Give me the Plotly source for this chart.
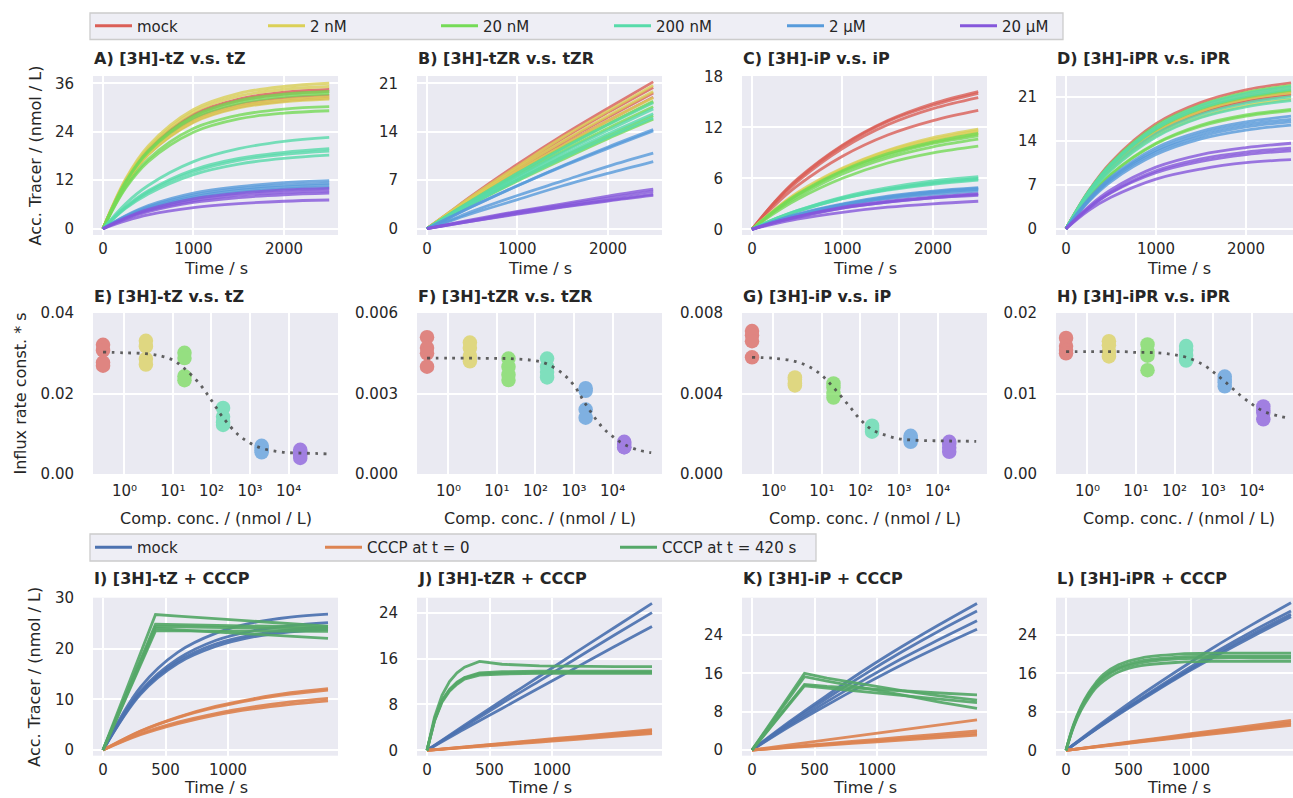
import math
import plotly.graph_objects as go

W, H = 1293, 798
FONT = "DejaVu Sans"
TXT = "#262626"
BG = "#EAEAF2"

# ------------------------------------------------------------------
# Row 1 : accumulated tracer in competition experiments (nmol / L)
# ------------------------------------------------------------------
T_TOP = [0, 250, 500, 1000, 1500, 2000, 2500]
COMP_GROUPS = ["mock", "2 nM", "20 nM", "200 nM", "2 µM", "20 µM"]
COMP_COLORS = ["#db5f57", "#dbd057", "#75db57", "#57dbaa", "#579bdb", "#8557db"]

A_curves = [
    [[0, 11.8, 19.6, 28.3, 32.1, 33.8, 34.5], [0, 11.6, 19.3, 27.9, 31.7, 33.3, 34.0],
     [0, 11.3, 18.8, 27.1, 30.7, 32.3, 33.0], [0, 11.0, 18.4, 26.5, 30.1, 31.6, 32.3]],
    [[0, 12.3, 20.5, 29.5, 33.5, 35.2, 36.0], [0, 12.0, 20.0, 28.9, 32.8, 34.5, 35.2],
     [0, 11.1, 18.5, 26.7, 30.4, 31.9, 32.6], [0, 11.0, 18.3, 26.3, 29.9, 31.4, 32.1]],
    [[0, 11.6, 19.3, 27.9, 31.7, 33.3, 34.0], [0, 11.4, 19.0, 27.4, 31.1, 32.7, 33.4],
     [0, 10.3, 17.2, 24.8, 28.1, 29.6, 30.2], [0, 10.0, 16.6, 23.9, 27.2, 28.6, 29.2]],
    [[0, 6.2, 10.7, 16.6, 19.8, 21.6, 22.6], [0, 5.4, 9.4, 14.6, 17.4, 18.9, 19.8],
     [0, 5.2, 9.1, 14.1, 16.9, 18.4, 19.2], [0, 5.0, 8.6, 13.4, 16.0, 17.4, 18.2]],
    [[0, 3.2, 5.7, 8.8, 10.4, 11.4, 11.9], [0, 3.1, 5.4, 8.3, 9.9, 10.8, 11.3],
     [0, 2.9, 5.1, 7.9, 9.5, 10.3, 10.8], [0, 2.8, 4.8, 7.5, 9.0, 9.8, 10.2]],
    [[0, 2.7, 4.8, 7.4, 8.8, 9.6, 10.0], [0, 2.6, 4.5, 6.9, 8.3, 9.0, 9.4],
     [0, 2.4, 4.2, 6.5, 7.7, 8.4, 8.8], [0, 1.9, 3.4, 5.2, 6.2, 6.8, 7.1]],
]

B_curves = [
    [[0, 2.4, 4.8, 9.3, 13.5, 17.4, 21.2], [0, 2.3, 4.6, 8.9, 13.0, 16.8, 20.4],
     [0, 2.2, 4.4, 8.6, 12.5, 16.1, 19.6], [0, 2.2, 4.3, 8.3, 12.1, 15.6, 19.0]],
    [[0, 2.4, 4.7, 9.0, 13.2, 17.0, 20.7], [0, 2.3, 4.5, 8.7, 12.6, 16.3, 19.8],
     [0, 2.2, 4.3, 8.3, 12.0, 15.6, 18.9], [0, 2.1, 4.1, 8.0, 11.6, 15.1, 18.3]],
    [[0, 2.1, 4.1, 8.0, 11.7, 15.1, 18.4], [0, 2.0, 4.0, 7.7, 11.2, 14.5, 17.6],
     [0, 1.9, 3.7, 7.1, 10.4, 13.4, 16.3], [0, 1.8, 3.6, 6.9, 10.0, 13.0, 15.8]],
    [[0, 2.1, 4.1, 8.0, 11.6, 15.0, 18.2], [0, 2.0, 3.9, 7.6, 11.0, 14.2, 17.3],
     [0, 1.9, 3.7, 7.3, 10.6, 13.7, 16.6], [0, 1.8, 3.6, 7.0, 10.2, 13.2, 16.0]],
    [[0, 1.6, 3.2, 6.2, 9.1, 11.8, 14.3], [0, 1.6, 3.2, 6.2, 9.0, 11.6, 14.1],
     [0, 1.2, 2.5, 4.8, 6.9, 9.0, 10.9], [0, 1.1, 2.2, 4.2, 6.2, 8.0, 9.7]],
    [[0, 0.65, 1.3, 2.5, 3.6, 4.7, 5.7], [0, 0.62, 1.2, 2.4, 3.4, 4.4, 5.4],
     [0, 0.57, 1.1, 2.2, 3.2, 4.1, 5.0], [0, 0.55, 1.1, 2.1, 3.1, 4.0, 4.8]],
]

C_curves = [
    [[0, 3.2, 5.9, 9.9, 12.8, 14.8, 16.2], [0, 3.2, 5.8, 9.8, 12.7, 14.6, 16.0],
     [0, 3.1, 5.6, 9.5, 12.3, 14.2, 15.5], [0, 2.8, 5.1, 8.6, 11.1, 12.8, 14.0]],
    [[0, 2.3, 4.3, 7.2, 9.3, 10.8, 11.8], [0, 2.3, 4.2, 7.1, 9.2, 10.6, 11.6],
     [0, 2.2, 4.1, 7.0, 9.0, 10.4, 11.4], [0, 2.2, 4.1, 6.9, 8.9, 10.2, 11.2]],
    [[0, 2.2, 4.1, 6.9, 8.9, 10.3, 11.3], [0, 2.2, 4.0, 6.8, 8.7, 10.1, 11.0],
     [0, 2.1, 3.8, 6.5, 8.4, 9.7, 10.6], [0, 1.9, 3.5, 6.0, 7.8, 9.0, 9.8]],
    [[0, 1.2, 2.2, 3.8, 4.9, 5.7, 6.2], [0, 1.2, 2.2, 3.7, 4.7, 5.5, 6.0],
     [0, 1.2, 2.1, 3.6, 4.7, 5.4, 5.9], [0, 1.1, 2.1, 3.6, 4.6, 5.3, 5.8]],
    [[0, 0.97, 1.8, 3.0, 3.9, 4.5, 4.9], [0, 0.95, 1.7, 2.9, 3.8, 4.4, 4.8],
     [0, 0.93, 1.7, 2.9, 3.7, 4.3, 4.7], [0, 0.89, 1.6, 2.8, 3.6, 4.1, 4.5]],
    [[0, 0.83, 1.5, 2.6, 3.3, 3.8, 4.2], [0, 0.81, 1.5, 2.5, 3.2, 3.7, 4.1],
     [0, 0.79, 1.4, 2.5, 3.2, 3.7, 4.0], [0, 0.65, 1.2, 2.0, 2.6, 3.0, 3.3]],
]

D_curves = [
    [[0, 6.0, 10.6, 16.7, 20.1, 22.1, 23.2], [0, 5.7, 10.0, 15.7, 18.9, 20.8, 21.8],
     [0, 5.6, 9.8, 15.4, 18.6, 20.5, 21.5], [0, 5.5, 9.7, 15.2, 18.4, 20.2, 21.2]],
    [[0, 5.8, 10.2, 16.1, 19.4, 21.3, 22.4], [0, 5.7, 10.1, 15.8, 19.1, 20.9, 22.0],
     [0, 5.6, 9.9, 15.5, 18.7, 20.6, 21.6], [0, 5.4, 9.4, 14.8, 17.8, 19.6, 20.6]],
    [[0, 5.9, 10.4, 16.4, 19.7, 21.7, 22.8], [0, 5.7, 10.1, 15.8, 19.1, 20.9, 22.0],
     [0, 4.9, 8.7, 13.6, 16.5, 18.1, 19.0], [0, 4.9, 8.6, 13.5, 16.3, 17.9, 18.8]],
    [[0, 5.9, 10.3, 16.2, 19.6, 21.5, 22.6], [0, 5.8, 10.1, 15.9, 19.2, 21.1, 22.2],
     [0, 5.5, 9.6, 15.1, 18.2, 20.0, 21.0], [0, 5.3, 9.3, 14.6, 17.7, 19.4, 20.4]],
    [[0, 4.7, 8.2, 12.9, 15.5, 17.0, 17.9], [0, 4.5, 8.0, 12.5, 15.1, 16.6, 17.4],
     [0, 4.4, 7.8, 12.2, 14.7, 16.2, 17.0], [0, 4.3, 7.5, 11.8, 14.3, 15.7, 16.5]],
    [[0, 3.5, 6.2, 9.8, 11.8, 12.9, 13.6], [0, 3.3, 5.8, 9.2, 11.1, 12.2, 12.8],
     [0, 3.2, 5.7, 8.9, 10.7, 11.8, 12.4], [0, 2.9, 5.0, 7.9, 9.5, 10.5, 11.0]],
]

# ------------------------------------------------------------------
# Row 2 : influx rate constants vs competitor concentration
# ------------------------------------------------------------------
CONC = [0, 2, 20, 200, 2000, 20000]          # nmol / L (mock = 0)
E_rates = [[0.0321, 0.0307, 0.0277, 0.0269], [0.0331, 0.0317, 0.0286, 0.0272],
           [0.0301, 0.0288, 0.0243, 0.0233], [0.0164, 0.0142, 0.0128, 0.0122],
           [0.0070, 0.0065, 0.0059, 0.0054], [0.0060, 0.0054, 0.0046, 0.0040]]
F_rates = [[0.0051, 0.0047, 0.0045, 0.0040], [0.0049, 0.0047, 0.0044, 0.0042],
           [0.0043, 0.0040, 0.0037, 0.0035], [0.0043, 0.0040, 0.0038, 0.0036],
           [0.0032, 0.0031, 0.0024, 0.0021], [0.0012, 0.0011, 0.0010, 0.0010]]
G_rates = [[0.0071, 0.0069, 0.0066, 0.0058], [0.0048, 0.0047, 0.0045, 0.0044],
           [0.0045, 0.0043, 0.0040, 0.0038], [0.0024, 0.0023, 0.0022, 0.0021],
           [0.0019, 0.0018, 0.0017, 0.0016], [0.0016, 0.0015, 0.0013, 0.0011]]
H_rates = [[0.0169, 0.0159, 0.0154, 0.0150], [0.0165, 0.0160, 0.0152, 0.0146],
           [0.0161, 0.0152, 0.0147, 0.0129], [0.0159, 0.0154, 0.0147, 0.0141],
           [0.0121, 0.0117, 0.0114, 0.0109], [0.0084, 0.0079, 0.0076, 0.0068]]

FIT_CONC = [0, 1, 2, 5, 10, 20, 50, 100, 200, 500, 1000, 2000, 5000, 10000, 20000, 50000, 100000]
E_fit = [0.0303, 0.0301, 0.0299, 0.0293, 0.0283, 0.0262, 0.0223, 0.0183, 0.0140, 0.0097,
         0.0077, 0.0064, 0.0056, 0.0053, 0.0052, 0.0051, 0.0050]
F_fit = [0.00432, 0.00432, 0.00432, 0.00431, 0.00431, 0.00430, 0.00427, 0.00422, 0.00410,
         0.00375, 0.0033, 0.0026, 0.0018, 0.0014, 0.0011, 0.00088, 0.0008]
G_fit = [0.0058, 0.00575, 0.0056, 0.0053, 0.0049, 0.0043, 0.0034, 0.0027, 0.0022, 0.0019,
         0.00175, 0.00169, 0.00166, 0.00165, 0.00164, 0.00163, 0.00162]
H_fit = [0.0152, 0.0152, 0.0152, 0.0152, 0.0151, 0.0151, 0.0150, 0.0148, 0.0145, 0.0137,
         0.0127, 0.0115, 0.0098, 0.0087, 0.0078, 0.0072, 0.0069]
LOG_TICKS = [1, 10, 100, 1000, 10000]
LOG_TICKTEXT = ["10⁰", "10¹", "10²", "10³", "10⁴"]

# ------------------------------------------------------------------
# Row 3 : CCCP experiments (nmol / L)
# ------------------------------------------------------------------
CCCP_GROUPS = ["mock", "CCCP at t = 0", "CCCP at t = 420 s"]
CCCP_COLORS = ["#4c72b0", "#dd8452", "#55a868"]
T_BOT = [0, 300, 600, 900, 1200, 1500, 1800]
T_KINK = [0, 420, 600, 900, 1200, 1500, 1800]
T_SAT = [0, 60, 120, 180, 240, 300, 420, 600, 900, 1200, 1500, 1800]

I_mock = [[0, 12.4, 19.3, 23.0, 25.1, 26.2, 26.8], [0, 11.6, 18.0, 21.6, 23.5, 24.5, 25.1],
          [0, 11.3, 17.5, 20.9, 22.7, 23.7, 24.3], [0, 11.0, 17.1, 20.4, 22.3, 23.3, 23.8]]
I_cccp0 = [[0, 3.75, 6.5, 8.6, 10.1, 11.3, 12.1], [0, 3.7, 6.4, 8.4, 9.9, 11.0, 11.8],
           [0, 3.2, 5.5, 7.2, 8.5, 9.5, 10.2], [0, 3.0, 5.2, 6.9, 8.1, 9.0, 9.7]]
I_cccp420 = [[0, 26.7, 26.4, 25.9, 25.3, 24.8, 24.4], [0, 24.8, 24.7, 24.6, 24.4, 24.3, 24.2],
             [0, 24.3, 24.3, 24.2, 24.1, 24.0, 23.8], [0, 23.5, 23.5, 23.5, 23.4, 23.4, 23.4],
             [0, 24.0, 23.7, 23.3, 22.8, 22.4, 22.0]]

J_mock = [[0, 4.4, 8.7, 12.9, 17.2, 21.4, 25.6], [0, 4.1, 8.2, 12.1, 16.1, 20.1, 24.0],
          [0, 3.7, 7.3, 10.9, 14.5, 18.1, 21.6]]
J_cccp0 = [[0, 0.6, 1.2, 1.8, 2.4, 3.0, 3.6], [0, 0.57, 1.13, 1.7, 2.27, 2.83, 3.4],
           [0, 0.52, 1.03, 1.55, 2.07, 2.58, 3.1], [0, 0.48, 0.97, 1.45, 1.93, 2.42, 2.9]]
J_cccp420 = [[0, 5.8, 9.6, 12.0, 13.5, 14.5, 15.5, 15.0, 14.7, 14.6, 14.6, 14.6],
             [0, 5.3, 8.7, 10.6, 11.9, 12.7, 13.5, 13.7, 13.8, 13.8, 13.8, 13.8],
             [0, 5.2, 8.6, 10.5, 11.7, 12.6, 13.3, 13.5, 13.6, 13.6, 13.6, 13.6],
             [0, 5.1, 8.4, 10.3, 11.5, 12.4, 13.1, 13.3, 13.4, 13.4, 13.4, 13.4]]

K_mock = [[0, 5.9, 11.4, 16.7, 21.6, 26.2, 30.6], [0, 5.6, 10.8, 15.8, 20.5, 24.9, 29.0],
          [0, 5.2, 10.1, 14.7, 19.1, 23.1, 27.0], [0, 4.9, 9.4, 13.7, 17.8, 21.6, 25.2]]
K_cccp0 = [[0, 1.05, 2.1, 3.15, 4.2, 5.25, 6.3], [0, 0.67, 1.33, 2.0, 2.67, 3.33, 4.0],
           [0, 0.58, 1.17, 1.75, 2.33, 2.92, 3.5], [0, 0.52, 1.03, 1.55, 2.07, 2.58, 3.1]]
K_cccp420 = [[0, 16.0, 15.0, 13.7, 12.4, 11.3, 10.4], [0, 15.3, 14.4, 13.0, 11.5, 10.0, 8.7],
             [0, 13.7, 13.3, 12.8, 12.3, 11.9, 11.5], [0, 13.4, 12.9, 12.1, 11.3, 10.6, 9.9]]

L_mock = [[0, 5.9, 11.5, 16.7, 21.7, 26.3, 30.7], [0, 5.6, 10.8, 15.8, 20.5, 24.9, 29.0],
          [0, 5.5, 10.6, 15.4, 20.0, 24.3, 28.3], [0, 5.4, 10.4, 15.2, 19.6, 23.8, 27.8]]
L_cccp0 = [[0, 1.03, 2.07, 3.1, 4.13, 5.17, 6.2], [0, 0.97, 1.93, 2.9, 3.87, 4.83, 5.8],
           [0, 0.92, 1.83, 2.75, 3.67, 4.58, 5.5], [0, 0.87, 1.73, 2.6, 3.47, 4.33, 5.2]]
L_cccp420 = [[0, 5.3, 9.1, 11.9, 14.1, 15.8, 17.8, 19.2, 20.0, 20.2, 20.2, 20.2],
             [0, 5.1, 8.8, 11.6, 13.7, 15.3, 17.2, 18.6, 19.4, 19.6, 19.6, 19.6],
             [0, 5.0, 8.6, 11.3, 13.4, 15.0, 16.9, 18.2, 19.0, 19.2, 19.2, 19.2],
             [0, 4.8, 8.3, 10.9, 13.0, 14.4, 16.3, 17.6, 18.3, 18.5, 18.5, 18.5]]

TITLES = ["A) [3H]-tZ v.s. tZ", "B) [3H]-tZR v.s. tZR", "C) [3H]-iP v.s. iP", "D) [3H]-iPR v.s. iPR",
          "E) [3H]-tZ v.s. tZ", "F) [3H]-tZR v.s. tZR", "G) [3H]-iP v.s. iP", "H) [3H]-iPR v.s. iPR",
          "I) [3H]-tZ + CCCP", "J) [3H]-tZR + CCCP", "K) [3H]-iP + CCCP", "L) [3H]-iPR + CCCP"]


def symlog(c, linthresh=2.0, linscale=1.0):
    """matplotlib-style symlog scale (base 10), in decade units."""
    adj = linscale / (1.0 - 1.0 / 10.0)
    if c <= linthresh:
        return c * adj / linthresh
    return adj + math.log10(c / linthresh)


# ------------------------------------------------------------------
# layout geometry (pixels)
# ------------------------------------------------------------------
PANEL_LEFT = [93, 417, 742, 1056]
PANEL_W = 245
ROW_TOP = [76, 313, 597.7]
ROW_BOT = [235, 474, 755.7]

X_RANGES = [[-110, 2597], [-110, 2597], [-110, 2597], [-111, 2522],
            [-0.26, 6.09], [-0.26, 6.09], [-0.26, 6.09], [-0.26, 5.88],
            [-80, 1880], [-80, 1880], [-80, 1880], [-80, 1816]]
Y_RANGES = [[-1.56, 37.8], [-0.91, 22.05], [-0.67, 18.04], [-1.0, 24.3],
            [0, 0.04], [0, 0.006], [0, 0.008], [0, 0.02],
            [-1.12, 30.03], [-0.94, 26.6], [-1.19, 31.8], [-1.13, 31.75]]
Y_TICKS = [[0, 12, 24, 36], [0, 7, 14, 21], [0, 6, 12, 18], [0, 7, 14, 21],
           [0, 0.02, 0.04], [0, 0.003, 0.006], [0, 0.004, 0.008], [0, 0.01, 0.02],
           [0, 10, 20, 30], [0, 8, 16, 24], [0, 8, 16, 24], [0, 8, 16, 24]]
Y_TICKTEXT = [None, None, None, None,
              ["0.00", "0.02", "0.04"], ["0.000", "0.003", "0.006"],
              ["0.000", "0.004", "0.008"], ["0.00", "0.01", "0.02"],
              None, None, None, None]

fig = go.Figure()


def ax_names(i):
    s = "" if i == 1 else str(i)
    return "x" + s, "y" + s


for i in range(12):
    idx = i + 1
    row, col = divmod(i, 4)
    left = PANEL_LEFT[col]
    xd = [left / W, min(1.0, (left + PANEL_W) / W)]
    yd = [1 - ROW_BOT[row] / H, 1 - ROW_TOP[row] / H]
    xn, yn = ax_names(idx)
    if row == 0:
        xtv, xtt = [0, 1000, 2000], ["0", "1000", "2000"]
    elif row == 1:
        xtv = [symlog(c) for c in LOG_TICKS]
        xtt = LOG_TICKTEXT
    else:
        xtv, xtt = [0, 500, 1000], ["0", "500", "1000"]
    ytv = Y_TICKS[i]
    ytt = Y_TICKTEXT[i] if Y_TICKTEXT[i] else [str(v) for v in ytv]
    common = dict(showgrid=True, gridcolor="white", gridwidth=1.7, zeroline=False,
                  showline=False, ticks="", tickfont=dict(family=FONT, size=15, color=TXT),
                  tickmode="array", fixedrange=True, automargin=False)
    fig.layout["xaxis" + ("" if idx == 1 else str(idx))] = dict(
        domain=xd, anchor=yn, range=X_RANGES[i], tickvals=xtv, ticktext=xtt,
        ticklabelstandoff=(6 if row == 1 else 3), **common)
    fig.layout["yaxis" + ("" if idx == 1 else str(idx))] = dict(
        domain=yd, anchor=xn, range=Y_RANGES[i], tickvals=ytv, ticktext=ytt,
        ticklabelstandoff=18, **common)

# ---- row 1 traces ----
for p, panel in enumerate([A_curves, B_curves, C_curves, D_curves]):
    xn, yn = ax_names(p + 1)
    for g, curves in enumerate(panel):
        for c in curves:
            fig.add_trace(go.Scatter(x=T_TOP, y=c, mode="lines", xaxis=xn, yaxis=yn,
                                     line=dict(color=COMP_COLORS[g], width=2.8, shape="spline"),
                                     opacity=0.8, showlegend=False, hoverinfo="skip"))

# ---- row 2 traces ----
for p, (rates, fit) in enumerate([(E_rates, E_fit), (F_rates, F_fit),
                                  (G_rates, G_fit), (H_rates, H_fit)]):
    xn, yn = ax_names(p + 5)
    for g, vals in enumerate(rates):
        fig.add_trace(go.Scatter(x=[symlog(CONC[g])] * len(vals), y=vals, mode="markers",
                                 xaxis=xn, yaxis=yn,
                                 marker=dict(color=COMP_COLORS[g], size=14.5, line=dict(width=0)),
                                 opacity=0.72, showlegend=False, hoverinfo="skip"))
    fig.add_trace(go.Scatter(x=[symlog(c) for c in FIT_CONC], y=fit, mode="lines",
                             xaxis=xn, yaxis=yn,
                             line=dict(color="rgba(70,70,70,0.85)", width=2.8, dash="2.8px,5.6px",
                                       shape="spline"),
                             showlegend=False, hoverinfo="skip"))

# ---- row 3 traces ----
for p, (m, c0, c420, tg, shp) in enumerate([
        (I_mock, I_cccp0, I_cccp420, T_KINK, "linear"),
        (J_mock, J_cccp0, J_cccp420, T_SAT, "linear"),
        (K_mock, K_cccp0, K_cccp420, T_KINK, "linear"),
        (L_mock, L_cccp0, L_cccp420, T_SAT, "spline")]):
    xn, yn = ax_names(p + 9)
    for g, (curves, tt, sh) in enumerate([(m, T_BOT, "spline"), (c0, T_BOT, "spline"), (c420, tg, shp)]):
        for c in curves:
            fig.add_trace(go.Scatter(x=tt, y=c, mode="lines", xaxis=xn, yaxis=yn,
                                     line=dict(color=CCCP_COLORS[g], width=2.8, shape=sh),
                                     opacity=0.92, showlegend=False, hoverinfo="skip"))

# ---- legends (one legend per entry, placed like the reference) ----
LEG1_X = [95, 268, 441, 614, 787, 960]
LEG2_X = [95, 325, 620]
LEG1_Y, LEG2_Y = 26, 547.5
leg_n = 0
for names, colors, xs, yc in [(COMP_GROUPS, COMP_COLORS, LEG1_X, LEG1_Y),
                              (CCCP_GROUPS, CCCP_COLORS, LEG2_X, LEG2_Y)]:
    for name, color, xpx in zip(names, colors, xs):
        leg_n += 1
        key = "legend" if leg_n == 1 else "legend%d" % leg_n
        fig.add_trace(go.Scatter(x=[None], y=[None], mode="lines", name=name,
                                 line=dict(color=color, width=3), legend=key,
                                 showlegend=True, hoverinfo="skip"))
        fig.layout[key] = dict(x=(xpx - 5) / W, y=1 - yc / H, xanchor="left", yanchor="middle",
                               bgcolor="rgba(0,0,0,0)", borderwidth=0, itemwidth=37,
                               font=dict(family=FONT, size=15, color=TXT))

shapes = [
    dict(type="rect", xref="paper", yref="paper", x0=90 / W, x1=1063 / W,
         y0=1 - 39.5 / H, y1=1 - 13 / H, fillcolor="rgba(234,234,242,0.8)",
         line=dict(color="#cccccc", width=1.3), layer="below"),
    dict(type="rect", xref="paper", yref="paper", x0=90 / W, x1=816 / W,
         y0=1 - 561 / H, y1=1 - 534 / H, fillcolor="rgba(234,234,242,0.8)",
         line=dict(color="#cccccc", width=1.3), layer="below"),
]

# ---- titles & axis labels ----
ann = []
TITLE_Y = [58.3, 296.7, 578.3]
XLAB_Y = [268, 518, 787]
XLABS = ["Time / s", "Comp. conc. / (nmol / L)", "Time / s"]
for i in range(12):
    row, col = divmod(i, 4)
    left = PANEL_LEFT[col]
    ann.append(dict(text="<b>%s</b>" % TITLES[i], x=(left - 1) / W, y=1 - TITLE_Y[row] / H,
                    xref="paper", yref="paper", xanchor="left", yanchor="middle", showarrow=False,
                    font=dict(family=FONT, size=16, color=TXT)))
    ann.append(dict(text=XLABS[row], x=(left + PANEL_W / 2) / W, y=1 - XLAB_Y[row] / H,
                    xref="paper", yref="paper", xanchor="center", yanchor="middle", showarrow=False,
                    borderpad=0, font=dict(family=FONT, size=16, color=TXT)))
for txt, xpx, row in [("Acc. Tracer / (nmol / L)", 35, 0), ("Influx rate const. * s", 20, 1),
                      ("Acc. Tracer / (nmol / L)", 35, 2)]:
    ann.append(dict(text=txt, x=xpx / W, y=1 - (ROW_TOP[row] + ROW_BOT[row]) / 2 / H,
                    xref="paper", yref="paper", xanchor="center", yanchor="middle",
                    showarrow=False, textangle=-90, font=dict(family=FONT, size=16, color=TXT)))

fig.update_layout(width=W, height=H, margin=dict(l=0, r=0, t=0, b=0, pad=0, autoexpand=False),
                  paper_bgcolor="white", plot_bgcolor=BG, font=dict(family=FONT, color=TXT),
                  shapes=shapes, annotations=ann, hovermode=False, showlegend=True)

fig.write_html("out.html")
